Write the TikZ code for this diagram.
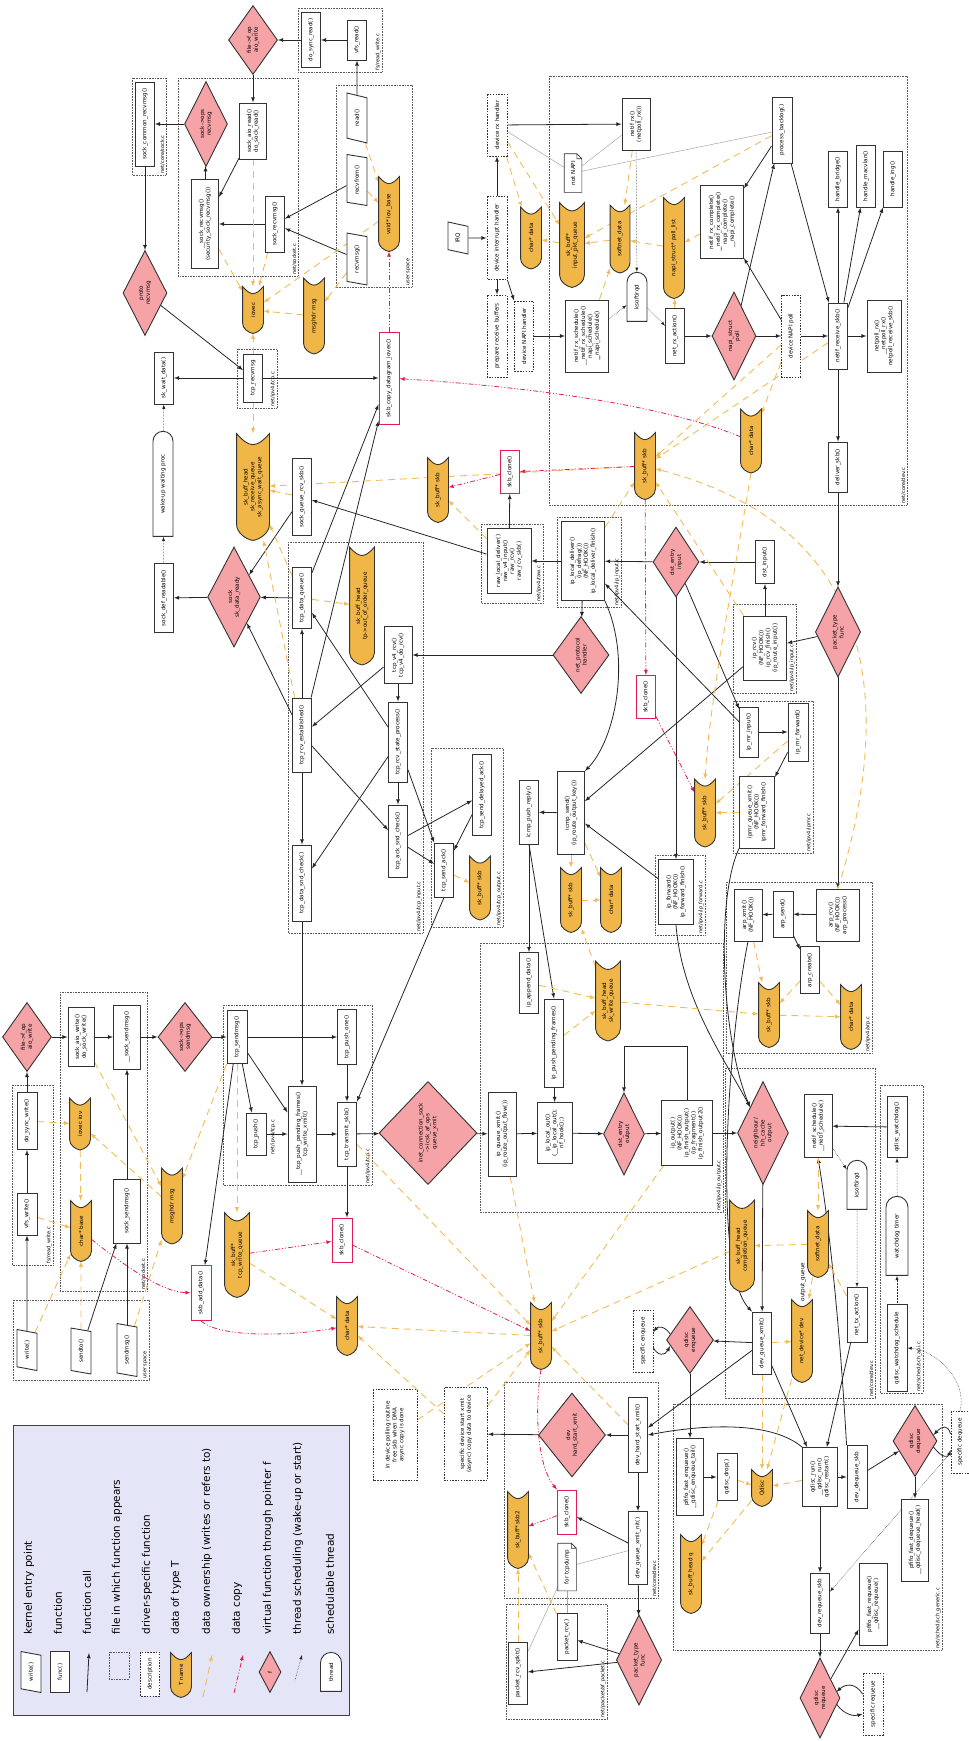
\documentclass[tikz,border=0pt]{standalone}
\usepackage{fontspec}
\setmainfont{DejaVu Sans}
\usepackage{tikz}
\usetikzlibrary{calc,shapes}
\usetikzlibrary{arrows}
\pgfdeclarelayer{background}
\pgfsetlayers{background,main}

\definecolor{datafill}{RGB}{240,182,72}
\definecolor{vfill}{RGB}{245,163,167}
\definecolor{owncol}{RGB}{243,188,88}
\definecolor{copycol}{RGB}{226,30,80}
\definecolor{legendfill}{RGB}{229,229,248}

\newcommand{\nodefont}{\fontsize{5.6}{6.9}\selectfont}
\newcommand{\filefont}{\fontsize{5}{6}\selectfont}
\newcommand{\legendfont}{\fontsize{10.5}{12}\selectfont}

%data of type T: notch on one end, rounded point on the other
\newdimen\dsl
\newdimen\dsr
\newdimen\dsb
\newdimen\dst
\newdimen\dsh
\newdimen\dsm
\makeatletter
\pgfdeclareshape{datashape}{%
  \inheritsavedanchors[from=rectangle]%
  \inheritanchorborder[from=rectangle]%
  \inheritanchor[from=rectangle]{center}%
  \inheritanchor[from=rectangle]{north}%
  \inheritanchor[from=rectangle]{south}%
  \inheritanchor[from=rectangle]{east}%
  \inheritanchor[from=rectangle]{west}%
  \inheritanchor[from=rectangle]{north east}%
  \inheritanchor[from=rectangle]{north west}%
  \inheritanchor[from=rectangle]{south east}%
  \inheritanchor[from=rectangle]{south west}%
  \backgroundpath{%
    \southwest \dsl=\pgf@x \dsb=\pgf@y
    \northeast \dsr=\pgf@x \dst=\pgf@y
    \dsh=\dst \advance\dsh by -\dsb
    \dsm=\dsb \advance\dsm by 0.5\dsh
    \pgfpathmoveto{\pgfpoint{\dsr}{\dst}}%
    \pgfpathlineto{\pgfpoint{\dsl+0.5*\dsh}{\dst}}%
    \pgfpathcurveto{\pgfpoint{\dsl+0.22*\dsh}{\dst}}{\pgfpoint{\dsl+0.03*\dsh}{\dsm+0.2*\dsh}}{\pgfpoint{\dsl}{\dsm}}%
    \pgfpathcurveto{\pgfpoint{\dsl+0.03*\dsh}{\dsm-0.2*\dsh}}{\pgfpoint{\dsl+0.22*\dsh}{\dsb}}{\pgfpoint{\dsl+0.5*\dsh}{\dsb}}%
    \pgfpathlineto{\pgfpoint{\dsr}{\dsb}}%
    \pgfpathcurveto{\pgfpoint{\dsr-0.45*\dsh}{\dsm-0.1*\dsh}}{\pgfpoint{\dsr-0.45*\dsh}{\dsm+0.1*\dsh}}{\pgfpoint{\dsr}{\dst}}%
    \pgfpathclose
  }%
}
%note with a folded corner
\pgfdeclareshape{noteshape}{%
  \inheritsavedanchors[from=rectangle]%
  \inheritanchorborder[from=rectangle]%
  \inheritanchor[from=rectangle]{center}%
  \inheritanchor[from=rectangle]{north}%
  \inheritanchor[from=rectangle]{south}%
  \inheritanchor[from=rectangle]{east}%
  \inheritanchor[from=rectangle]{west}%
  \inheritanchor[from=rectangle]{north east}%
  \inheritanchor[from=rectangle]{north west}%
  \inheritanchor[from=rectangle]{south east}%
  \inheritanchor[from=rectangle]{south west}%
  \backgroundpath{%
    \southwest \dsl=\pgf@x \dsb=\pgf@y
    \northeast \dsr=\pgf@x \dst=\pgf@y
    \pgfpathmoveto{\pgfpoint{\dsl}{\dsb}}%
    \pgfpathlineto{\pgfpoint{\dsr-5pt}{\dsb}}%
    \pgfpathlineto{\pgfpoint{\dsr}{\dsb+5pt}}%
    \pgfpathlineto{\pgfpoint{\dsr}{\dst}}%
    \pgfpathlineto{\pgfpoint{\dsl}{\dst}}%
    \pgfpathclose
    \pgfpathmoveto{\pgfpoint{\dsr-5pt}{\dsb}}%
    \pgfpathlineto{\pgfpoint{\dsr-5pt}{\dsb+5pt}}%
    \pgfpathlineto{\pgfpoint{\dsr}{\dsb+5pt}}%
  }%
}
\makeatother

\tikzset{
  fn/.style={draw=black!80, line width=0.9pt, fill=white, rotate=90, align=center, inner sep=1pt, font=\nodefont},
  sz/.style 2 args={minimum width=#1, minimum height=#2},
  copyfn/.style={fn, draw=copycol},
  drv/.style={fn, dash pattern=on 1.5pt off 1.3pt},
  notebox/.style={fn, shape=noteshape, line width=0.6pt},
  entrypt/.style={fn, trapezium, trapezium left angle=72, trapezium right angle=108, trapezium stretches=true},
  vfn/.style={fn, diamond, fill=vfill, inner sep=0pt},
  datum/.style={fn, shape=datashape, fill=datafill, inner sep=0.5pt},
  thr/.style={fn, rounded rectangle, rounded rectangle west arc=none},
  call/.style={draw=black!85, line width=0.8pt, -latex},
  own/.style={draw=owncol, line width=0.9pt, dash pattern=on 7pt off 5pt, -latex},
  cpy/.style={draw=copycol, line width=0.8pt, dash pattern=on 5pt off 2pt on 1pt off 2pt on 1pt off 2pt, -latex},
  sched/.style={draw=black!85, line width=0.5pt, densely dotted, -latex},
  hint/.style={draw=black!35, line width=0.5pt},
  filebox/.style={draw=black!65, line width=0.6pt, densely dotted},
  filelabel/.style={rotate=90, anchor=south west, font=\filefont, inner sep=1.2pt},
}

\begin{document}
\begin{tikzpicture}[x=1pt, y=-1pt]
\useasboundingbox (0,0) rectangle (969,1741);

%receive path: user space and socket layer
\node[entrypt, sz={50}{20}] (rread) at (357,118) {read()};
\node[entrypt, sz={51}{20}] (rrecvfrom) at (357,180) {recvfrom()};
\node[entrypt, sz={52}{20}] (rrecvmsg) at (357,259) {recvmsg()};
\node[fn, sz={40}{19}] (vfsread) at (357,40) {vfs\_read()};
\node[fn, sz={55}{19}] (dosyncread) at (311,40) {do\_sync\_read()};
\node[vfn, sz={69}{49}] (aioread) at (253,40) {file->f\_op\\aio\_write};
\node[fn, sz={56}{27}] (sockaioread) at (253,131) {sock\_aio\_read()\\do\_sock\_read()};
\node[fn, sz={89}{27}] (sockrecvmsgU) at (205,224) {\_\_sock\_recvmsg()\\(security\_sock\_recvmsg())};
\node[fn, sz={56}{19}] (sockrecvmsg) at (275,224) {sock\_recvmsg()};
\node[vfn, sz={85}{43}] (opsrecvmsg) at (206,124) {sock->ops\\recvmsg};
\node[fn, sz={84}{19}] (commonrecvmsg) at (145,124) {sock\_common\_recvmsg()};
\node[vfn, sz={85}{44}] (protorecvmsg) at (145,293) {proto\\recvmsg};
\node[datum, sz={46}{20}] (iovec) at (253,310) {iovec};
\node[datum, sz={75}{20}] (msghdrR) at (314,316) {msghdr msg};
\node[datum, sz={74}{20}] (iovbase) at (389,214) {void* iov\_base};
\node[fn, sz={48}{19}] (tcprecvmsg) at (253,378) {tcp\_recvmsg};
\node[fn, sz={52}{19}] (skwaitdata) at (164,378) {sk\_wait\_data()};
\node[copyfn, sz={92}{20}] (skbcopyiov) at (389,378) {skb\_copy\_datagram\_iovec()};
\node[thr, sz={107}{20}] (wakeup) at (163,484) {wake-up waiting proc};
\node[fn, sz={69}{19}] (sockdefreadable) at (164,598) {sock\_def\_readable()};
\node[vfn, sz={100}{50}] (dataready) at (234,597) {sock\\sk\_data\_ready};
\node[datum, sz={106}{32}] (rcvqueue) at (253,487) {sk\_buff\_head\\sk\_receive\_queue\\sk\_async\_wait\_queue};

%tcp receive
\node[fn, sz={77}{19}] (sockqueuercv) at (302,497) {sock\_queue\_rcv\_skb()};
\node[fn, sz={61}{19}] (tcpdataqueue) at (302,598) {tcp\_data\_queue()};
\node[fn, sz={74}{19}] (tcprcvest) at (302,735) {tcp\_rcv\_established()};
\node[fn, sz={76}{19}] (tcpdatasnd) at (302,883) {tcp\_data\_snd\_check()};
\node[datum, sz={117}{24}] (oooqueue) at (362,606) {sk\_buff\_head\\tp->out\_of\_order\_queue};
\node[fn, sz={57}{28}] (tcpv4rcv) at (398,655) {tcp\_v4\_rcv()\\tcp\_v4\_do\_rcv()};
\node[fn, sz={80}{19}] (tcpstate) at (398,742) {tcp\_rcv\_state\_process()};
\node[fn, sz={72}{19}] (tcpacksnd) at (398,841) {tcp\_ack\_snd\_check()};
\node[fn, sz={81}{19}] (tcpdelack) at (482,795) {tcp\_send\_delayed\_ack()};
\node[fn, sz={54}{19}] (tcpsendack) at (444,870) {tcp\_send\_ack()};
\node[datum, sz={63}{20}] (skbTO) at (480,888) {sk\_buff* skb};

%ip receive
\node[datum, sz={64}{20}] (skbRaw) at (438,490) {sk\_buff* skb};
\node[copyfn, sz={43}{19}] (cloneRaw) at (510,472) {skb\_clone()};
\node[fn, sz={65}{44}] (rawdeliver) at (509,561) {raw\_local\_deliver()\\raw\_v4\_input()\\raw\_rcv()\\raw\_rcv\_skb()};
\node[fn, sz={79}{43}] (ipldeliver) at (583,561) {ip\_local\_deliver()\\(ip\_defrag())\\(NF\_HOOK())\\ip\_local\_deliver\_finish()};
\node[vfn, sz={77}{56}] (protohandler) at (581,655) {net\_protocol\\handler};
\node[fn, sz={83}{27}] (icmpsend) at (571,813) {icmp\_send()\\(ip\_route\_output\_key())};
\node[fn, sz={64}{19}] (icmppush) at (529,812) {icmp\_push\_reply()};
\node[copyfn, sz={43}{19}] (cloneMr) at (646,697) {skb\_clone()};
\node[datum, sz={64}{20}] (skbIcmp) at (571,900) {sk\_buff* skb};
\node[datum, sz={64}{20}] (dataIcmp) at (611,900) {char* data};
\node[datum, sz={66}{20}] (skbDev) at (645,466) {sk\_buff* skb};
\node[datum, sz={63}{20}] (dataDev) at (751,441) {char* data};
\node[fn, sz={50}{19}] (deliverskb) at (838,467) {deliver\_skb()};
\node[vfn, sz={70}{46}] (dstinput) at (676,562) {dst\_entry\\input};
\node[fn, sz={43}{19}] (dstinputfn) at (765,562) {dst\_input()};
\node[fn, sz={64}{43}] (iprcv) at (765,648) {ip\_rcv()\\(NF\_HOOK())\\ip\_rcv\_finish()\\(ip\_route\_input())};
\node[vfn, sz={90}{45}] (ptfuncR) at (838,632) {packet\_type\\func};
\node[fn, sz={50}{19}] (ipmrinput) at (749,732) {ip\_mr\_input()};
\node[fn, sz={58}{20}] (ipmrforward) at (798,732) {ip\_mr\_forward()};
\node[fn, sz={72}{35}] (ipmrqueue) at (757,812) {ipmr\_queue\_xmit()\\(NF\_HOOK())\\ipmr\_forward\_finish()};
\node[datum, sz={67}{20}] (skbMr) at (705,813) {sk\_buff* skb};
\node[fn, sz={65}{35}] (ipforward) at (676,892) {ip\_forward()\\(NF\_HOOK())\\ip\_forward\_finish()};
\node[fn, sz={52}{43}] (arprcv) at (838,915) {arp\_rcv()\\(NF\_HOOK())\\arp\_process()};
\node[fn, sz={46}{20}] (arpsend) at (783,914) {arp\_send()};
\node[fn, sz={52}{28}] (arpxmit) at (748,915) {arp\_xmit()\\(NF\_HOOK())};
\node[fn, sz={47}{19}] (arpcreate) at (810,970) {arp\_create()};
\node[datum, sz={64}{20}] (skbArp) at (769,1015) {sk\_buff* skb};
\node[datum, sz={64}{20}] (dataArp) at (851,1017) {char* data};

%driver and softirq receive
\node[entrypt, sz={32}{20}] (irq) at (458,238) {IRQ};
\node[drv, sz={83}{20}] (devirq) at (497,238) {device interrupt handler};
\node[drv, sz={62}{20}] (devrx) at (497,125) {device rx handler};
\node[drv, sz={82}{20}] (prepbuf) at (497,336) {prepare receive buffers};
\node[drv, sz={70}{19}] (devnapi) at (524,336) {device NAPI handler};
\node[datum, sz={61}{20}] (dataIrq) at (531,238) {char* data};
\node[datum, sz={84}{24}] (inputq) at (572,245) {sk\_buff*\\input\_pkt\_queue};
\node[datum, sz={67}{19}] (softnetR) at (620,239) {softnet\_data};
\node[notebox, sz={38}{17}] (notnapi) at (573,173) {not NAPI};
\node[fn, sz={52}{28}] (netifrx) at (636,124) {netif\_rx()\\(netpoll\_rx())};
\node[thr, sz={51}{20}] (ksoftR) at (637,297) {ksoftirqd};
\node[fn, sz={72}{43}] (rxsched) at (587,336) {netif\_rx\_schedule()\\\_\_netif\_rx\_schedule()\\napi\_schedule()\\\_\_napi\_schedule()};
\node[datum, sz={100}{20}] (polllist) at (674,248) {napi\_struct* poll\_list};
\node[fn, sz={55}{19}] (netrxaction) at (675,336) {net\_rx\_action()};
\node[vfn, sz={88}{44}] (napipoll) at (734,336) {napi\_struct\\poll};
\node[drv, sz={82}{19}] (devnapipoll) at (791,336) {device NAPI poll};
\node[fn, sz={73}{43}] (rxcomplete) at (722,222) {netif\_rx\_complete()\\\_\_netif\_rx\_complete()\\napi\_complete()\\\_\_napi\_complete()};
\node[fn, sz={66}{20}] (backlog) at (782,130) {process\_backlog()};
\node[fn, sz={66}{19}] (netifrecv) at (838,336) {netif\_receive\_skb()};
\node[fn, sz={56}{19}] (hbridge) at (838,179) {handle\_bridge()};
\node[fn, sz={62}{19}] (hmacvlan) at (866,176) {handle\_macvlan()};
\node[fn, sz={56}{19}] (hing) at (893,179) {handle\_ing()};
\node[fn, sz={72}{34}] (netpollrx) at (884,336) {netpoll\_rx()\\\_\_netpoll\_rx()\\netpoll\_receive\_skb()};

%send path: user space and socket layer
\node[entrypt, sz={41}{20}] (wwrite) at (27,1350) {write()};
\node[entrypt, sz={46}{20}] (wsendto) at (81,1351) {sendto()};
\node[entrypt, sz={53}{20}] (wsendmsg) at (127,1350) {sendmsg()};
\node[vfn, sz={69}{49}] (aiowrite) at (27,1037) {file->f\_op\\aio\_write};
\node[fn, sz={57}{20}] (dosyncwrite) at (27,1121) {do\_sync\_write()};
\node[fn, sz={42}{20}] (vfswrite) at (27,1214) {vfs\_write()};
\node[fn, sz={59}{26}] (sockaiowrite) at (81,1037) {sock\_aio\_write()\\do\_sock\_write()};
\node[fn, sz={64}{27}] (socksendmsgU) at (127,1037) {\_\_sock\_sendmsg()};
\node[fn, sz={64}{27}] (socksendmsg) at (127,1211) {sock\_sendmsg()};
\node[datum, sz={51}{20}] (iovecW) at (80,1124) {iovec iov};
\node[datum, sz={60}{20}] (charbase) at (81,1231) {char* base};
\node[datum, sz={75}{20}] (msghdrW) at (172,1206) {msghdr msg};
\node[vfn, sz={69}{54}] (opssendmsg) at (185,1037) {sock->ops\\sendmsg};

%tcp and ip send
\node[fn, sz={53}{20}] (tcpsendmsg) at (237,1037) {tcp\_sendmsg()};
\node[fn, sz={42}{20}] (tcppush) at (256,1134) {tcp\_push()};
\node[fn, sz={96}{28}] (pushpending) at (302,1134) {\_\_tcp\_push\_pending\_frames()\\tcp\_write\_xmit()};
\node[copyfn, sz={55}{20}] (skbadddata) at (201,1293) {skb\_add\_data()};
\node[datum, sz={84}{24}] (writequeue) at (237,1255) {sk\_buff*\\tcp\_write\_queue};
\node[fn, sz={55}{19}] (tcppushone) at (347,1037) {tcp\_push\_one()};
\node[fn, sz={64}{19}] (tcptransmit) at (347,1134) {tcp\_transmit\_skb()};
\node[copyfn, sz={44}{20}] (cloneTcp) at (342,1240) {skb\_clone()};
\node[vfn, sz={103}{98}] (queuexmit) at (428,1133) {inet\_connection\_sock\\->icsk\_af\_ops\\queue\_xmit};
\node[fn, sz={84}{28}] (ipqueuexmit) at (502,1134) {ip\_queue\_xmit()\\(ip\_route\_output\_flow())};
\node[fn, sz={61}{35}] (iplocalout) at (555,1133) {ip\_local\_out()\\(\_\_ip\_local\_out();\\nf\_hook();)};
\node[fn, sz={61}{19}] (ipappend) at (529,983) {ip\_append\_data()};
\node[fn, sz={88}{19}] (ippushpending) at (554,1043) {ip\_push\_pending\_frames()};
\node[datum, sz={79}{24}] (skwritequeue) at (608,1001) {sk\_buff\_head\\sk\_write\_queue};
\node[vfn, sz={82}{41}] (dstoutput) at (624,1134) {dst\_entry\\output};
\node[fn, sz={65}{51}] (ipoutput) at (687,1133) {ip\_output()\\(NF\_HOOK())\\ip\_finish\_output()\\(ip\_fragment())\\ip\_finish\_output2()};
\node[vfn, sz={103}{51}] (neighout) at (763,1133) {neighbour/\\hh\_cache\\output};

%device and queueing layer
\node[fn, sz={63}{28}] (netifsched) at (818,1126) {netif\_schedule()\\\_\_netif\_schedule()};
\node[thr, sz={51}{20}] (ksoftT) at (857,1185) {ksoftirqd};
\node[fn, sz={61}{20}] (qwatchdog) at (897,1127) {qdisc\_watchdog()};
\node[thr, sz={81}{22}] (wdtimer) at (897,1236) {watchdog timer};
\node[fn, sz={87}{20}] (wdsched) at (897,1348) {qdisc\_watchdog\_schedule};
\node[datum, sz={91}{24}] (complq) at (742,1246) {sk\_buff\_head\\completion\_queue};
\node[datum, sz={66}{20}] (softnetT) at (818,1244) {softnet\_data};
\node[fn, sz={55}{20}] (nettxaction) at (857,1315) {net\_tx\_action()};
\node[datum, sz={82}{20}] (netdev) at (802,1341) {net\_device* dev};
\node[fn, sz={62}{19}] (devqxmit) at (762,1343) {dev\_queue\_xmit()};
\node[vfn, sz={67}{47}] (qenqueue) at (690,1340) {qdisc\\enqueue};
\node[drv, sz={62}{20}] (specenq) at (643,1341) {specific enqueue};
\node[fn, sz={77}{27}] (pfifoenq) at (690,1477) {pfifo\_fast\_enqueue()\\\_\_qdisc\_enqueue\_tail()};
\node[fn, sz={47}{20}] (qdrop) at (727,1477) {qdisc\_drop()};
\node[datum, sz={36}{20}] (qdiscdata) at (762,1488) {Qdisc};
\node[datum, sz={78}{20}] (headq) at (691,1574) {sk\_buff\_head q};
\node[fn, sz={59}{35}] (qdiscrun) at (820,1477) {qdisc\_run()\\\_\_qdisc\_run()\\qdisc\_restart()};
\node[fn, sz={63}{20}] (devdequeue) at (857,1477) {dev\_dequeue\_skb};
\node[vfn, sz={71}{44}] (qdequeue) at (915,1441) {qdisc\\dequeue};
\node[drv, sz={62}{18}] (specdeq) at (960,1442) {specific dequeue};
\node[fn, sz={82}{27}] (pfifodeq) at (915,1540) {pfifo\_fast\_dequeue()\\\_\_qdisc\_dequeue\_head()};
\node[fn, sz={60}{19}] (devrequeue) at (820,1603) {dev\_requeue\_skb};
\node[fn, sz={82}{28}] (pfiforeq) at (873,1604) {pfifo\_fast\_requeue()\\\_\_qdisc\_requeue()};
\node[vfn, sz={80}{40}] (qrequeue) at (820,1698) {qdisc\\requeue};
\node[drv, sz={62}{20}] (specreq) at (873,1704) {specific requeue};

%hardware transmit and taps
\node[datum, sz={66}{20}] (skbTx) at (541,1336) {sk\_buff* skb};
\node[datum, sz={58}{20}] (dataTx) at (347,1326) {char* data};
\node[drv, sz={91}{44}] (dmanote) at (395,1435) {in device polling routine\\free skb when DMA\\async copy is done};
\node[drv, sz={93}{43}] (startnote) at (466,1434) {specific device start xmit\\(async) copy data to device};
\node[vfn, sz={84}{67}] (hardxmit) at (572,1435) {dev\\hard\_start\_xmit};
\node[fn, sz={75}{19}] (devhardxmit) at (638,1435) {dev\_hard\_start\_xmit()};
\node[fn, sz={73}{19}] (devnit) at (638,1548) {dev\_queue\_xmit\_nit()};
\node[copyfn, sz={44}{19}] (cloneNit) at (567,1512) {skb\_clone()};
\node[datum, sz={76}{20}] (skb2) at (518,1530) {sk\_buff* skb2};
\node[notebox, sz={47}{18}] (tcpdump) at (567,1567) {for tcpdump};
\node[fn, sz={47}{20}] (packetrcv) at (567,1637) {packet\_rcv()};
\node[fn, sz={62}{19}] (packetspkt) at (518,1673) {packet\_rcv\_spkt()};
\node[vfn, sz={90}{45}] (ptfuncT) at (639,1660) {packet\_type\\func};

\node[rotate=90, font=\filefont] at (273,1137) {net/ipv4/tcp.c};
\node[rotate=90, font=\nodefont] (outq) at (803,1282) {output\_queue};

%legend
\draw[fill=legendfill, draw=black!75, line width=0.9pt] (13,1425) rectangle (349,1715);
\node[entrypt, sz={41}{20}] (lgentry) at (31,1672) {write()};
\node[fn, sz={41}{19}] (lgfn) at (60,1672) {func()};
\node[drv, sz={44}{19}] (lgdrv) at (150,1674) {description};
\node[datum, sz={44}{20}] (lgdata) at (181,1675) {T name};
\node[vfn, sz={41}{22}] (lgvf) at (270,1672) {f};
\node[thr, sz={41}{21}] (lgthr) at (331,1672) {thread};
\coordinate (lgcalla) at (87,1692); \coordinate (lgcallb) at (89,1653);
\coordinate (lgowna) at (203,1697); \coordinate (lgownb) at (212,1655);
\coordinate (lgcpya) at (234,1693); \coordinate (lgcpyb) at (243,1655);
\coordinate (lgscha) at (295,1680); \coordinate (lgschb) at (302,1655);
\draw[call] (lgcalla) -- (lgcallb);
\draw[filebox] (109,1652) rectangle (129,1679);
\draw[own] (lgowna) -- (lgownb);
\draw[cpy] (lgcpya) -- (lgcpyb);
\draw[sched] (lgscha) -- (lgschb);
\foreach \x/\txt in {29/kernel entry point, 58/function, 87/function call,
  117/file in which function appears, 147/driver-specific function,
  176/data of type T, 207/data ownership (writes or refers to), 237/data copy,
  268/virtual function through pointer f, 298/thread scheduling (wake-up or start),
  330/schedulable thread}
  \node[rotate=90, anchor=west, font=\legendfont] at (\x,1638) {\txt};

\begin{pgfonlayer}{background}
%source files
\draw[filebox] (298,8) rectangle (382,72) node[filelabel] {fs/read\_write.c};
\draw[filebox] (336,85) rectangle (412,287) node[filelabel] {user space};
\draw[filebox] (178,78) rectangle (298,276) node[filelabel] {net/socket.c};
\draw[filebox] (132,78) rectangle (166,175) node[filelabel] {net/core/sock.c};
\draw[filebox] (237,349) rectangle (277,408) node[filelabel] {net/ipv4/tcp.c};
\draw[filebox] (549,76) rectangle (907,505) node[filelabel] {net/core/dev.c};
\draw[filebox] (288,542) rectangle (423,933) node[filelabel] {net/ipv4/tcp\_input.c};
\draw[filebox] (481,524) rectangle (543,603) node[filelabel] {net/ipv4/raw.c};
\draw[filebox] (557,517) rectangle (621,607) node[filelabel] {net/ipv4/ip\_input.c};
\draw[filebox] (431,748) rectangle (503,927) node[filelabel] {net/ipv4/tcp\_output.c};
\draw[filebox] (733,604) rectangle (796,693) node[filelabel] {net/ipv4/ip\_input.c};
\draw[filebox] (733,701) rectangle (813,853) node[filelabel] {net/ipv4/ipmr.c};
\draw[filebox] (655,855) rectangle (705,935) node[filelabel] {net/ipv4/ip\_forward.c};
\draw[filebox] (726,882) rectangle (872,1053) node[filelabel] {net/ipv4/arp.c};
\draw[filebox] (480,943) rectangle (723,1212) node[filelabel] {net/ipv4/ip\_output.c};
\draw[filebox] (725,1068) rectangle (875,1398) node[filelabel] {net/core/dev.c};
\draw[filebox] (880,1085) rectangle (923,1393) node[filelabel] {net/sched/sch\_api.c};
\draw[filebox] (673,1404) rectangle (942,1650) node[filelabel] {net/sched/sch\_generic.c};
\draw[filebox] (504,1382) rectangle (658,1598) node[filelabel] {net/core/dev.c};
\draw[filebox] (506,1604) rectangle (607,1719) node[filelabel] {net/packet/af\_packet.c};
\draw[filebox] (12,1085) rectangle (53,1265) node[filelabel] {fs/read\_write.c};
\draw[filebox] (60,992) rectangle (147,1291) node[filelabel] {net/socket.c};
\draw[filebox] (223,1005) rectangle (372,1185) node[filelabel] {net/ipv4/tcp.c};
\draw[filebox] (13,1300) rectangle (149,1380) node[filelabel] {user space};

%calls on the receive side
\draw[call] (rread) -- (vfsread);
\draw[call] (vfsread) -- (dosyncread);
\draw[call] (dosyncread) -- (aioread);
\draw[call] (aioread) -- (sockaioread);
\draw[call] (sockaioread) -- (sockrecvmsgU);
\draw[call] (sockrecvmsg) -- (sockrecvmsgU);
\draw[call] (rrecvfrom) -- (sockrecvmsg);
\draw[call] (rrecvmsg) -- (sockrecvmsg);
\draw[call] (sockrecvmsgU) -- (opsrecvmsg);
\draw[call] (opsrecvmsg) -- (commonrecvmsg);
\draw[call] (commonrecvmsg) -- (protorecvmsg);
\draw[call] (protorecvmsg) -- (tcprecvmsg);
\draw[call] (tcprecvmsg) -- (skwaitdata);
\draw[call] (tcprecvmsg) -- (skbcopyiov);
\draw[call] (dataready) -- (sockdefreadable);
\draw[call] (tcpdataqueue) -- (dataready);
\draw[call] (sockqueuercv) -- (dataready);
\draw[call] (tcprcvest) -- (dataready);
\draw[call] (tcprcvest) -- (tcpdataqueue);
\draw[call] (tcprcvest) -- (tcpdatasnd);
\draw[call] (tcpdataqueue) -- (skbcopyiov);
\draw[call] (tcprcvest) -- (skbcopyiov);
\draw[call] (tcpv4rcv) -- (tcprcvest);
\draw[call] (tcpv4rcv) -- (tcpstate);
\draw[call] (tcpstate) -- (tcpacksnd);
\draw[call] (tcpstate) -- (tcpdataqueue);
\draw[call] (tcpstate) -- (tcpdatasnd);
\draw[call] (tcprcvest) -- (tcpacksnd);
\draw[call] (tcpstate) -- (tcpsendack);
\draw[call] (tcpacksnd) -- (tcpdelack);
\draw[call] (tcpacksnd) -- (tcpsendack);
\draw[call] (tcpdelack) -- (tcpsendack);
\draw[call] (tcpsendack.west) -- (tcptransmit.south east);
\draw[call] (rawdeliver) -- (sockqueuercv);
\draw[call] (rawdeliver) -- (cloneRaw);
\draw[call] (ipldeliver) -- (rawdeliver);
\draw[call] (ipldeliver) -- (protohandler);
\draw[call] (protohandler) -- (tcpv4rcv);
\draw[call] (ipldeliver.south west) .. controls (632,660) and (615,740) .. (icmpsend.south east);
\draw[call] (icmpsend) -- (icmppush);
\draw[call] (icmppush) -- (ipappend);
\draw[call] (icmppush.west) -- (ippushpending.east);
\draw[call] (dstinput) -- (ipldeliver);
\draw[call] (dstinputfn) -- (dstinput);
\draw[call] (iprcv) -- (dstinputfn);
\draw[call] (dstinput) -- (ipmrinput);
\draw[call] (dstinput) -- (ipforward);
\draw[call] (ipmrinput) -- (ipldeliver);
\draw[call] (iprcv) -- (icmpsend);
\draw[call] (ipforward) -- (icmpsend);
\draw[call] (ipmrinput) -- (ipmrforward);
\draw[call] (ipmrforward) -- (ipmrqueue);
\draw[call] (ipmrqueue.north west) .. controls (715,900) and (722,1040) .. (neighout.north east);
\draw[call] (ipforward.west) .. controls (682,1000) and (725,1060) .. (neighout.north east);
\draw[call] (arpxmit.west) .. controls (728,1040) and (712,1270) .. (devqxmit.north east);
\draw[call] (ptfuncR) -- (iprcv);
\draw[call] (deliverskb) -- (ptfuncR);
\draw[call] (ptfuncR) -- (arprcv);
\draw[call] (arprcv) -- (arpsend);
\draw[call] (arpsend) -- (arpxmit);
\draw[call] (arpsend) -- (arpcreate);

%calls in driver and softirq
\draw[call] (irq) -- (devirq);
\draw[call] (devirq) -- (devrx);
\draw[call] (devirq) -- (prepbuf);
\draw[call] (devirq.south west) -- (devnapi.north east);
\draw[call] (devrx) -- (netifrx);
\draw[call] (devnapi) -- (rxsched);
\draw[call] (netrxaction) -- (napipoll);
\draw[call] (napipoll) -- (devnapipoll);
\draw[call] (napipoll) -- (backlog);
\draw[call] (devnapipoll) -- (netifrecv);
\draw[call] (devnapipoll) -- (rxcomplete);
\draw[call] (backlog) -- (rxcomplete);
\draw[call] (backlog) -- (netifrecv);
\draw[call] (netifrecv) -- (hbridge);
\draw[call] (netifrecv) -- (hmacvlan);
\draw[call] (netifrecv) -- (hing);
\draw[call] (netifrecv) -- (netpollrx);
\draw[call] (netifrecv) -- (deliverskb);

%calls on the send side
\draw[call] (wwrite) -- (vfswrite);
\draw[call] (vfswrite) -- (dosyncwrite);
\draw[call] (dosyncwrite) -- (aiowrite);
\draw[call] (aiowrite) -- (sockaiowrite);
\draw[call] (sockaiowrite) -- (socksendmsgU);
\draw[call] (socksendmsgU) -- (opssendmsg);
\draw[call] (opssendmsg) -- (tcpsendmsg);
\draw[call] (wsendto) -- (socksendmsg);
\draw[call] (wsendmsg) -- (socksendmsg);
\draw[call] (socksendmsg) -- (socksendmsgU);
\draw[call] (tcpsendmsg) -- (tcppushone);
\draw[call] (tcpsendmsg) -- (tcppush);
\draw[call] (tcpsendmsg) -- (pushpending);
\draw[call] (tcppush) -- (pushpending);
\draw[call] (tcpsendmsg) -- (skbadddata);
\draw[call] (tcpdatasnd) -- (pushpending);
\draw[call] (pushpending) -- (tcptransmit);
\draw[call] (tcppushone) -- (tcptransmit);
\draw[call] (tcptransmit.west) -- (tcptransmit.west |- cloneTcp.east);
\draw[call] (tcptransmit) -- (queuexmit);
\draw[call] (queuexmit) -- (ipqueuexmit);
\draw[call] (ipqueuexmit) -- (iplocalout);
\draw[call] (ippushpending) -- (iplocalout);
\draw[call] (iplocalout) -- (dstoutput);
\draw[call] (dstoutput) -- (ipoutput);
\draw[call] (ipoutput) -- (neighout);
\draw[call] (ipoutput.east) |- ([yshift=46pt]dstoutput.east) -- (dstoutput.east);
\draw[call] (neighout) -- (devqxmit);
\draw[call] (devqxmit) -- (qenqueue);
\draw[call] ($(qenqueue.north)+(4,-6)$) .. controls (665,1326) and (658,1326) .. ($(specenq.south)+(0,-9)$);
\draw[call] ($(specenq.south)+(0,7)$) .. controls (658,1356) and (665,1356) .. ($(qenqueue.north)+(4,6)$);
\draw[call] (qenqueue) -- (pfifoenq);
\draw[call] (pfifoenq) -- (qdrop);
\draw[call] (devqxmit) -- (devhardxmit);
\draw[call] (devqxmit) -- (qdiscrun);
\draw[call] (nettxaction) -- (qdiscrun);
\draw[call] (qdiscrun) -- (devdequeue);
\draw[call] (devdequeue) -- (qdequeue);
\draw[call] ($(specdeq.north)+(0,-8)$) .. controls (948,1424) and (942,1426) .. ($(qdequeue.south)+(-4,-6)$);
\draw[call] ($(qdequeue.south)+(-4,6)$) .. controls (942,1458) and (948,1458) .. ($(specdeq.north)+(0,8)$);
\draw[call] (qdequeue) -- (pfifodeq);
\draw[call] (qdiscrun) -- (devrequeue);
\draw[call] (devrequeue) -- (qrequeue);
\draw[call] (qrequeue) -- (pfiforeq);
\draw[call] ($(specreq.north)+(0,-10)$) .. controls (855,1682) and (845,1684) .. ($(qrequeue.south)+(-4,-6)$);
\draw[call] ($(qrequeue.south)+(-4,6)$) .. controls (845,1716) and (855,1716) .. ($(specreq.north)+(0,10)$);
\draw[call] (qdiscrun.north east) .. controls (770,1420) and (700,1425) .. (devhardxmit.south);
\draw[call] (devdequeue.north east) .. controls (840,1330) and (830,1230) .. (netifsched.west);
\draw[call] (qwatchdog) -- (netifsched);
\draw[call] (devhardxmit) -- (hardxmit);
\draw[call] (hardxmit) -- (startnote);
\draw[call] (devhardxmit) -- (devnit);
\draw[call] (devnit) -- (cloneNit);
\draw[call] (devnit) -- (ptfuncT);
\draw[call] (ptfuncT) -- (packetrcv);
\draw[call] (ptfuncT) -- (packetspkt);

%thread scheduling
\draw[sched] (wakeup) -- (skwaitdata);
\draw[sched] (sockdefreadable) -- (wakeup);
\draw[sched] (rxsched) -- (ksoftR);
\draw[sched] (netifrx) -- (ksoftR);
\draw[sched] (ksoftR) -- (netrxaction);
\draw[sched] (netifsched) -- (ksoftT);
\draw[sched] (ksoftT) -- (nettxaction);
\draw[sched] (wdtimer) -- (qwatchdog);
\draw[sched] (wdsched) -- (wdtimer);
\draw[sched] (specdeq.east) .. controls (968,1380) and (935,1350) .. (wdsched.south);
\draw[sched] (specdeq) -- (devrequeue);

%notes
\draw[hint] (notnapi) -- (devrx);
\draw[hint] (notnapi) -- (netifrx);
\draw[hint] (notnapi) -- (backlog);
\draw[hint] (tcpdump) -- (devnit);
\draw[hint] (tcpdump) -- (packetrcv);
\draw[hint] (tcpdump) -- (packetspkt);

%data ownership, receive
\draw[own] (rread) -- (iovbase);
\draw[own] (rrecvfrom) -- (iovbase);
\draw[own] (rrecvmsg) -- (msghdrR);
\draw[own] (iovbase) -- (iovec);
\draw[own] (msghdrR) -- (iovec);
\draw[own] (sockaioread) -- (iovec);
\draw[own] (sockrecvmsgU) -- (iovec);
\draw[own] (sockrecvmsg) -- (iovec);
\draw[own] (tcprecvmsg) -- (iovec);
\draw[own] (tcprecvmsg) -- (rcvqueue);
\draw[own] (sockqueuercv) -- (rcvqueue);
\draw[own] (tcpdataqueue) -- (rcvqueue);
\draw[own] (tcprcvest) -- (rcvqueue);
\draw[own] (skbDev) -- (rcvqueue);
\draw[own] (tcpdataqueue) -- (oooqueue);
\draw[own] (rawdeliver) -- (skbRaw);
\draw[own] (tcpsendack) -- (skbTO);
\draw[own] (icmpsend) -- (skbIcmp);
\draw[own] (icmpsend) -- (dataIcmp);
\draw[own] (skbIcmp) -- (dataIcmp);
\draw[own] (skwritequeue) -- (skbIcmp);
\draw[own] (ipmrqueue) -- (skbMr);
\draw[own] (ipmrforward) -- (skbMr);
\draw[own] (dataDev.west) .. controls (730,600) and (710,700) .. (skbMr.east);
\draw[own] (iprcv) -- (skbDev);
\draw[own] (ipldeliver) -- (skbDev);
\draw[own] (arprcv.east) .. controls (890,720) and (890,530) .. (skbDev);
\draw[own] (arpxmit) -- (skbArp);
\draw[own] (arpcreate) -- (skbArp);
\draw[own] (skbArp) -- (dataArp);
\draw[own] (arpcreate) -- (dataArp);
\draw[own] (skwritequeue) -- (skbArp);
\draw[own] (ipappend) -- (skwritequeue);
\draw[own] (ippushpending) -- (skwritequeue);
\draw[own] (devrx) -- (dataIrq);
\draw[own] (devrx) -- (inputq);
\draw[own] (inputq) -- (dataIrq);
\draw[own] (softnetR) -- (inputq);
\draw[own] (netifrx) -- (softnetR);
\draw[own] (rxsched) -- (softnetR);
\draw[own] (polllist) -- (softnetR);
\draw[own] (rxcomplete) -- (polllist);
\draw[own] (netrxaction) -- (polllist);
\draw[own] (backlog) -- (inputq);
\draw[own] (devnapipoll) -- (dataDev);
\draw[own] (devnapipoll) -- (skbDev);
\draw[own] (netifrecv) -- (skbDev);

%data ownership, send
\draw[own] (dosyncwrite) -- (iovecW);
\draw[own] (vfswrite) -- (charbase);
\draw[own] (iovecW) -- (charbase);
\draw[own] (wwrite) -- (charbase);
\draw[own] (wsendto) -- (charbase);
\draw[own] (wsendmsg) -- (msghdrW);
\draw[own] (sockaiowrite) -- (msghdrW);
\draw[own] (msghdrW) -- (iovecW);
\draw[own] (tcpsendmsg) -- (msghdrW);
\draw[own] (tcpsendmsg) -- (writequeue);
\draw[own] (writequeue) -- (dataTx);
\draw[own] (tcptransmit) -- (skbTx);
\draw[own] (skbTx) -- (dataTx);
\draw[own] (startnote) -- (dataTx);
\draw[own] (dmanote) -- (skbTx);
\draw[own] (startnote) -- (skbTx);
\draw[own] (ipqueuexmit) -- (skbTx);
\draw[own] (ipoutput) -- (skbTx);
\draw[own] (complq) -- (skbTx);
\draw[own] (devhardxmit) -- (skbTx);
\draw[own] (softnetT) -- (complq);
\draw[own] (netifsched) -- (softnetT);
\draw[own] (nettxaction) -- (softnetT);
\draw[own] (softnetT) -- (netdev);
\draw[own] (devqxmit) -- (netdev);
\draw[own] (devqxmit) -- (qdiscdata);
\draw[own] (netdev) -- (qdiscdata);
\draw[own] (qdrop) -- (qdiscdata);
\draw[own] (qdiscdata) -- (headq);
\draw[own] (qdrop) -- (headq);
\draw[own] (qdiscrun) -- (qdiscdata);
\draw[own] (packetspkt) -- (skb2);
\draw[own] (packetrcv) -- (skb2);

%data copies
\draw[cpy] (skbcopyiov) -- (iovbase);
\draw[cpy] (dataDev) .. controls (650,400) and (500,385) .. (skbcopyiov);
\draw[cpy] (skbDev) -- (cloneRaw);
\draw[cpy] (cloneRaw) -- (skbRaw);
\draw[cpy] (skbDev) -- (cloneMr);
\draw[cpy] (cloneMr) -- (skbMr);
\draw[cpy] (charbase) .. controls (120,1262) and (160,1292) .. (skbadddata);
\draw[cpy] (skbadddata.west) .. controls (220,1338) and (290,1336) .. (dataTx);
\draw[cpy] (writequeue) -- (cloneTcp);
\draw[cpy] (cloneTcp) -- (skbTx);
\draw[cpy] (skbTx.west) .. controls (533,1420) and (540,1470) .. (cloneNit.north east);
\draw[cpy] (cloneNit) -- (skb2);
\end{pgfonlayer}

\end{tikzpicture}
\end{document}
